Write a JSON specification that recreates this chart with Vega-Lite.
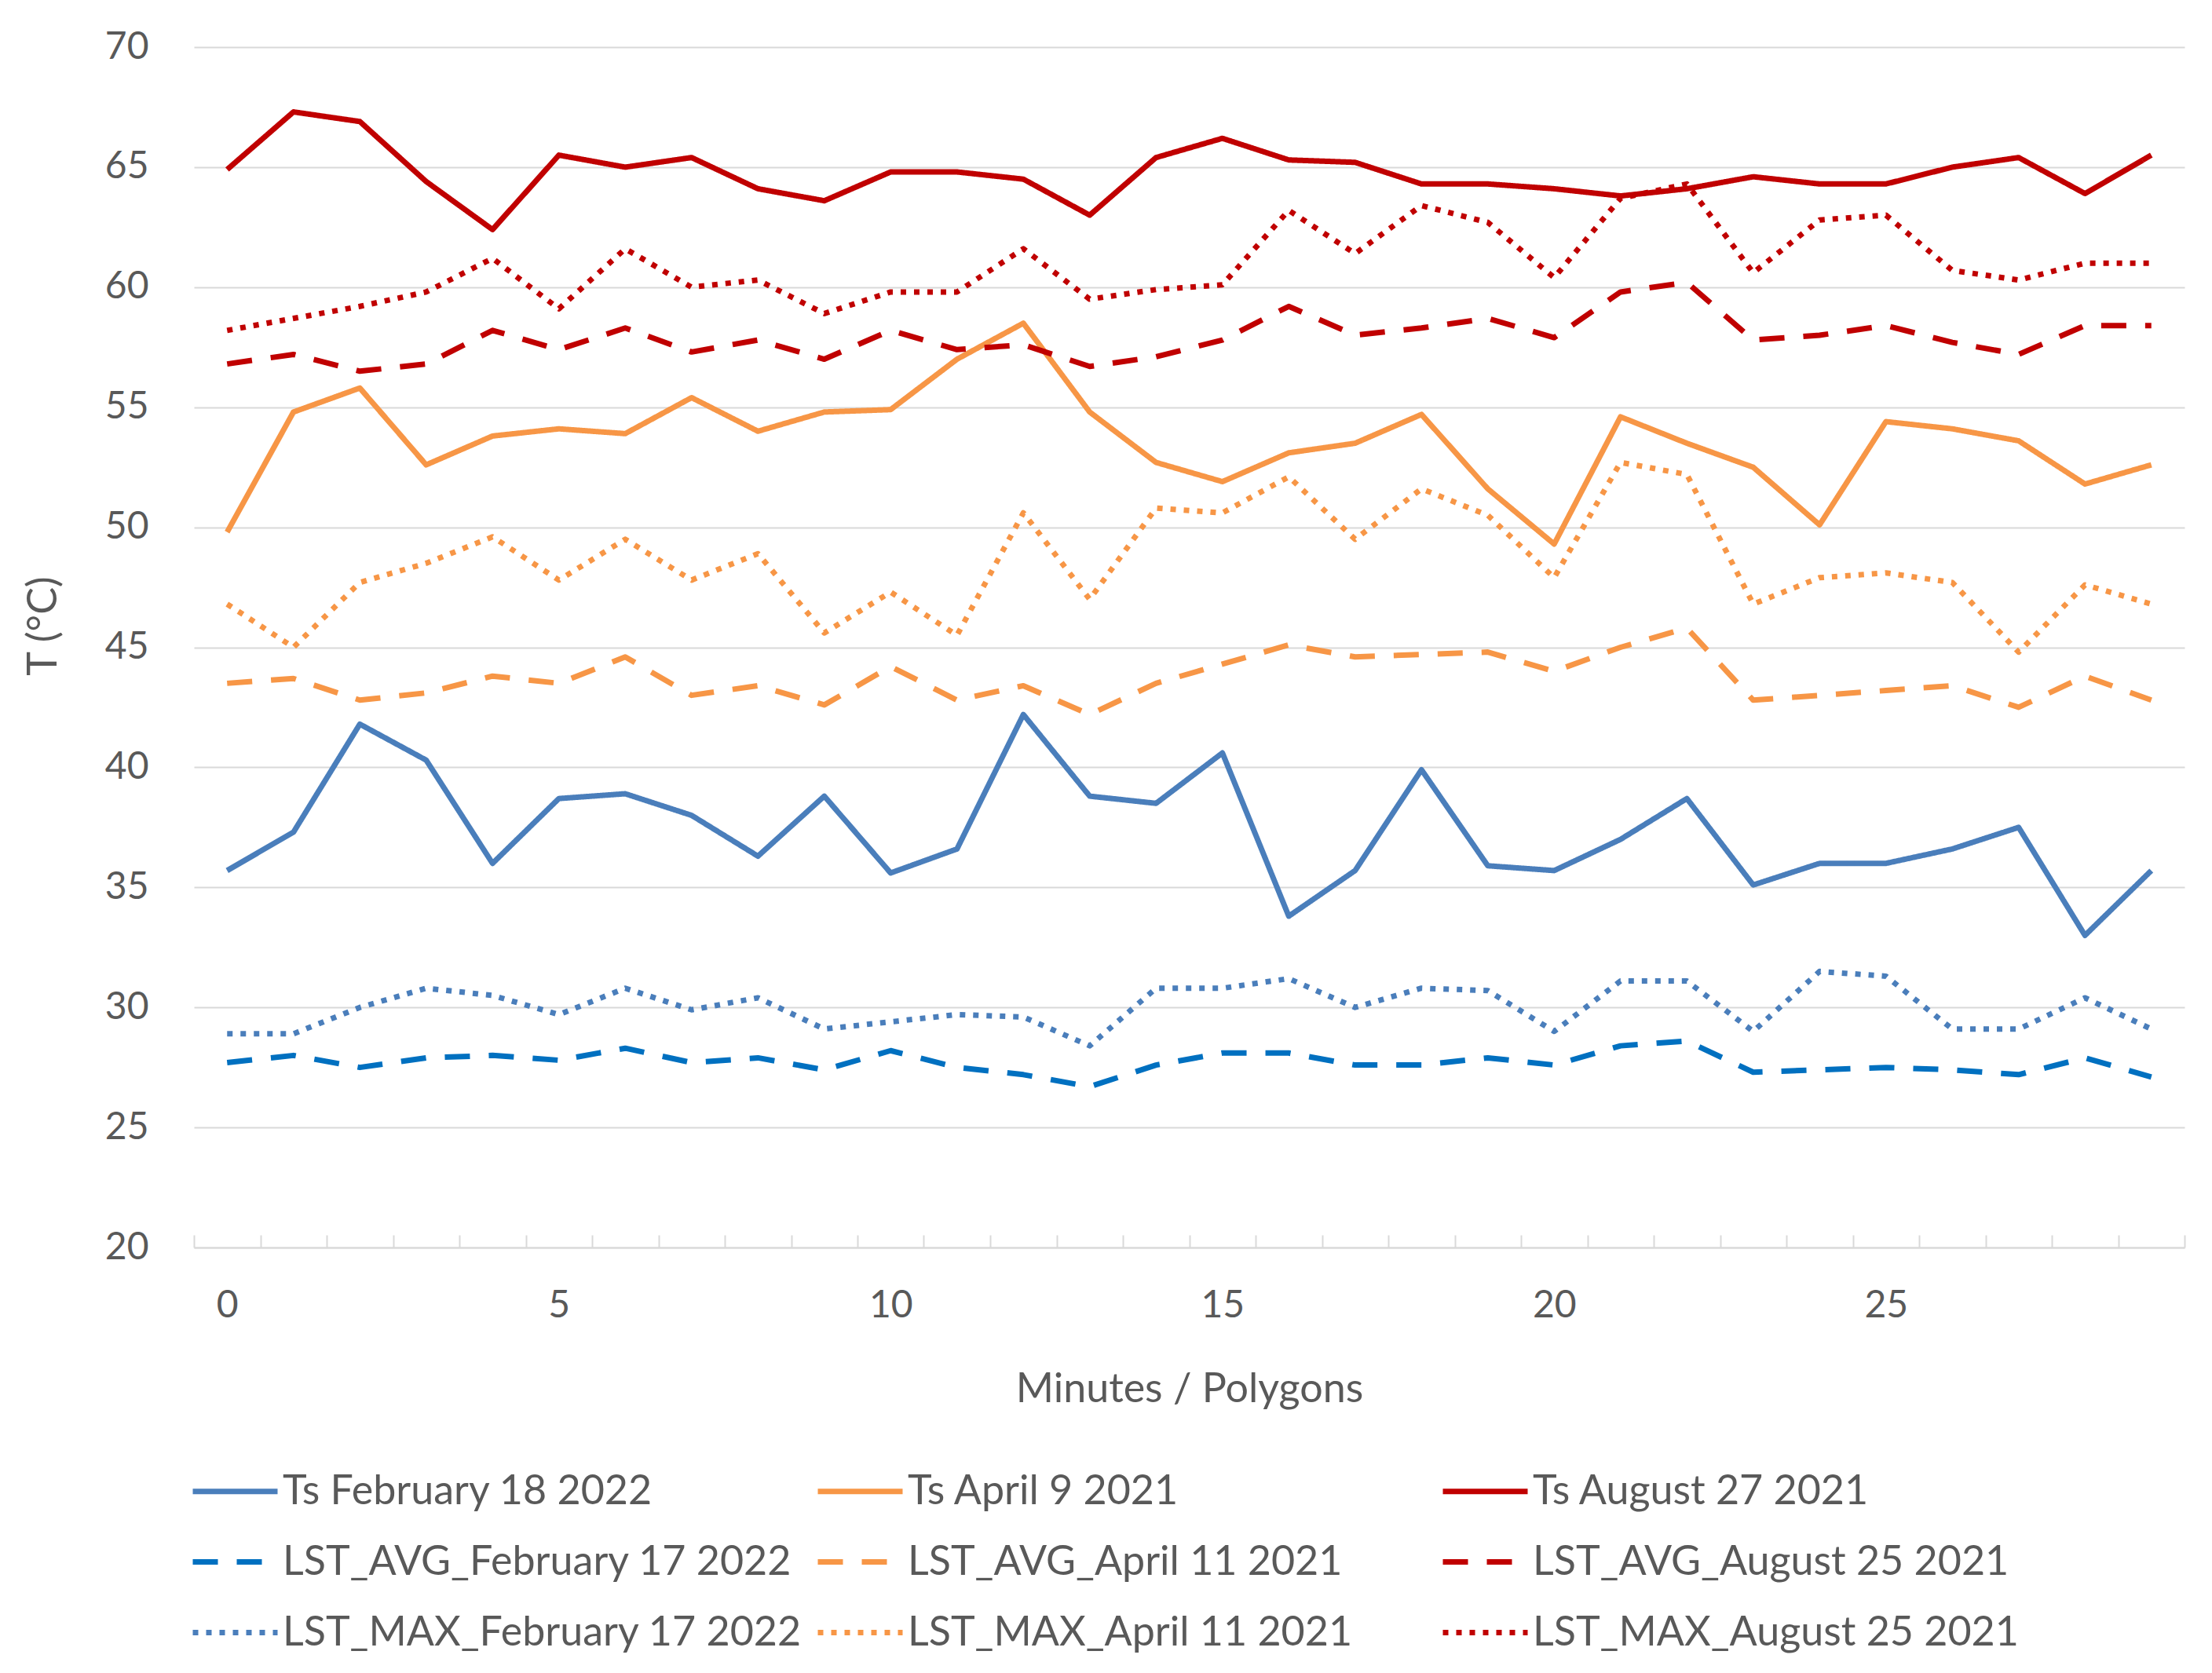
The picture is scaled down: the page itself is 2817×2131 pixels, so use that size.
{
  "$schema": "https://vega.github.io/schema/vega-lite/v6.json",
  "autosize": {"type": "none"},
  "padding": {"left": 247, "top": 60, "right": 35, "bottom": 542},
  "width": 2535,
  "height": 1529,
  "background": "white",
  "config": {
    "view": {"stroke": null},
    "font": "Lato",
    "axis": {"labelColor": "#595959", "titleColor": "#595959", "labelFont": "Lato", "titleFont": "Lato", "titleFontWeight": "normal"},
    "legend": {"labelFont": "Lato", "labelColor": "#595959"}
  },
  "data": {
    "values": [
      {"m": 0, "Ts February 18 2022": 35.7, "LST_AVG_February 17 2022": 27.7, "LST_MAX_February 17 2022": 28.9, "Ts April 9 2021": 49.8, "LST_AVG_April 11 2021": 43.5, "LST_MAX_April 11 2021": 46.8, "Ts August 27 2021": 64.9, "LST_AVG_August 25 2021": 56.8, "LST_MAX_August 25 2021": 58.2},
      {"m": 1, "Ts February 18 2022": 37.3, "LST_AVG_February 17 2022": 28.0, "LST_MAX_February 17 2022": 28.9, "Ts April 9 2021": 54.8, "LST_AVG_April 11 2021": 43.7, "LST_MAX_April 11 2021": 45.0, "Ts August 27 2021": 67.3, "LST_AVG_August 25 2021": 57.2, "LST_MAX_August 25 2021": 58.7},
      {"m": 2, "Ts February 18 2022": 41.8, "LST_AVG_February 17 2022": 27.5, "LST_MAX_February 17 2022": 30.0, "Ts April 9 2021": 55.8, "LST_AVG_April 11 2021": 42.8, "LST_MAX_April 11 2021": 47.7, "Ts August 27 2021": 66.9, "LST_AVG_August 25 2021": 56.5, "LST_MAX_August 25 2021": 59.2},
      {"m": 3, "Ts February 18 2022": 40.3, "LST_AVG_February 17 2022": 27.9, "LST_MAX_February 17 2022": 30.8, "Ts April 9 2021": 52.6, "LST_AVG_April 11 2021": 43.1, "LST_MAX_April 11 2021": 48.5, "Ts August 27 2021": 64.4, "LST_AVG_August 25 2021": 56.8, "LST_MAX_August 25 2021": 59.8},
      {"m": 4, "Ts February 18 2022": 36.0, "LST_AVG_February 17 2022": 28.0, "LST_MAX_February 17 2022": 30.5, "Ts April 9 2021": 53.8, "LST_AVG_April 11 2021": 43.8, "LST_MAX_April 11 2021": 49.6, "Ts August 27 2021": 62.4, "LST_AVG_August 25 2021": 58.2, "LST_MAX_August 25 2021": 61.2},
      {"m": 5, "Ts February 18 2022": 38.7, "LST_AVG_February 17 2022": 27.8, "LST_MAX_February 17 2022": 29.7, "Ts April 9 2021": 54.1, "LST_AVG_April 11 2021": 43.5, "LST_MAX_April 11 2021": 47.8, "Ts August 27 2021": 65.5, "LST_AVG_August 25 2021": 57.4, "LST_MAX_August 25 2021": 59.1},
      {"m": 6, "Ts February 18 2022": 38.9, "LST_AVG_February 17 2022": 28.3, "LST_MAX_February 17 2022": 30.8, "Ts April 9 2021": 53.9, "LST_AVG_April 11 2021": 44.6, "LST_MAX_April 11 2021": 49.5, "Ts August 27 2021": 65.0, "LST_AVG_August 25 2021": 58.3, "LST_MAX_August 25 2021": 61.6},
      {"m": 7, "Ts February 18 2022": 38.0, "LST_AVG_February 17 2022": 27.7, "LST_MAX_February 17 2022": 29.9, "Ts April 9 2021": 55.4, "LST_AVG_April 11 2021": 43.0, "LST_MAX_April 11 2021": 47.8, "Ts August 27 2021": 65.4, "LST_AVG_August 25 2021": 57.3, "LST_MAX_August 25 2021": 60.0},
      {"m": 8, "Ts February 18 2022": 36.3, "LST_AVG_February 17 2022": 27.9, "LST_MAX_February 17 2022": 30.4, "Ts April 9 2021": 54.0, "LST_AVG_April 11 2021": 43.4, "LST_MAX_April 11 2021": 48.9, "Ts August 27 2021": 64.1, "LST_AVG_August 25 2021": 57.8, "LST_MAX_August 25 2021": 60.3},
      {"m": 9, "Ts February 18 2022": 38.8, "LST_AVG_February 17 2022": 27.4, "LST_MAX_February 17 2022": 29.1, "Ts April 9 2021": 54.8, "LST_AVG_April 11 2021": 42.6, "LST_MAX_April 11 2021": 45.6, "Ts August 27 2021": 63.6, "LST_AVG_August 25 2021": 57.0, "LST_MAX_August 25 2021": 58.9},
      {"m": 10, "Ts February 18 2022": 35.6, "LST_AVG_February 17 2022": 28.2, "LST_MAX_February 17 2022": 29.4, "Ts April 9 2021": 54.9, "LST_AVG_April 11 2021": 44.2, "LST_MAX_April 11 2021": 47.3, "Ts August 27 2021": 64.8, "LST_AVG_August 25 2021": 58.2, "LST_MAX_August 25 2021": 59.8},
      {"m": 11, "Ts February 18 2022": 36.6, "LST_AVG_February 17 2022": 27.5, "LST_MAX_February 17 2022": 29.7, "Ts April 9 2021": 57.0, "LST_AVG_April 11 2021": 42.8, "LST_MAX_April 11 2021": 45.5, "Ts August 27 2021": 64.8, "LST_AVG_August 25 2021": 57.4, "LST_MAX_August 25 2021": 59.8},
      {"m": 12, "Ts February 18 2022": 42.2, "LST_AVG_February 17 2022": 27.2, "LST_MAX_February 17 2022": 29.6, "Ts April 9 2021": 58.5, "LST_AVG_April 11 2021": 43.4, "LST_MAX_April 11 2021": 50.6, "Ts August 27 2021": 64.5, "LST_AVG_August 25 2021": 57.6, "LST_MAX_August 25 2021": 61.6},
      {"m": 13, "Ts February 18 2022": 38.8, "LST_AVG_February 17 2022": 26.7, "LST_MAX_February 17 2022": 28.4, "Ts April 9 2021": 54.8, "LST_AVG_April 11 2021": 42.2, "LST_MAX_April 11 2021": 47.0, "Ts August 27 2021": 63.0, "LST_AVG_August 25 2021": 56.7, "LST_MAX_August 25 2021": 59.5},
      {"m": 14, "Ts February 18 2022": 38.5, "LST_AVG_February 17 2022": 27.6, "LST_MAX_February 17 2022": 30.8, "Ts April 9 2021": 52.7, "LST_AVG_April 11 2021": 43.5, "LST_MAX_April 11 2021": 50.8, "Ts August 27 2021": 65.4, "LST_AVG_August 25 2021": 57.1, "LST_MAX_August 25 2021": 59.9},
      {"m": 15, "Ts February 18 2022": 40.6, "LST_AVG_February 17 2022": 28.1, "LST_MAX_February 17 2022": 30.8, "Ts April 9 2021": 51.9, "LST_AVG_April 11 2021": 44.3, "LST_MAX_April 11 2021": 50.6, "Ts August 27 2021": 66.2, "LST_AVG_August 25 2021": 57.8, "LST_MAX_August 25 2021": 60.1},
      {"m": 16, "Ts February 18 2022": 33.8, "LST_AVG_February 17 2022": 28.1, "LST_MAX_February 17 2022": 31.2, "Ts April 9 2021": 53.1, "LST_AVG_April 11 2021": 45.1, "LST_MAX_April 11 2021": 52.1, "Ts August 27 2021": 65.3, "LST_AVG_August 25 2021": 59.2, "LST_MAX_August 25 2021": 63.2},
      {"m": 17, "Ts February 18 2022": 35.7, "LST_AVG_February 17 2022": 27.6, "LST_MAX_February 17 2022": 30.0, "Ts April 9 2021": 53.5, "LST_AVG_April 11 2021": 44.6, "LST_MAX_April 11 2021": 49.5, "Ts August 27 2021": 65.2, "LST_AVG_August 25 2021": 58.0, "LST_MAX_August 25 2021": 61.4},
      {"m": 18, "Ts February 18 2022": 39.9, "LST_AVG_February 17 2022": 27.6, "LST_MAX_February 17 2022": 30.8, "Ts April 9 2021": 54.7, "LST_AVG_April 11 2021": 44.7, "LST_MAX_April 11 2021": 51.6, "Ts August 27 2021": 64.3, "LST_AVG_August 25 2021": 58.3, "LST_MAX_August 25 2021": 63.4},
      {"m": 19, "Ts February 18 2022": 35.9, "LST_AVG_February 17 2022": 27.9, "LST_MAX_February 17 2022": 30.7, "Ts April 9 2021": 51.6, "LST_AVG_April 11 2021": 44.8, "LST_MAX_April 11 2021": 50.5, "Ts August 27 2021": 64.3, "LST_AVG_August 25 2021": 58.7, "LST_MAX_August 25 2021": 62.7},
      {"m": 20, "Ts February 18 2022": 35.7, "LST_AVG_February 17 2022": 27.6, "LST_MAX_February 17 2022": 29.0, "Ts April 9 2021": 49.3, "LST_AVG_April 11 2021": 44.0, "LST_MAX_April 11 2021": 47.9, "Ts August 27 2021": 64.1, "LST_AVG_August 25 2021": 57.9, "LST_MAX_August 25 2021": 60.4},
      {"m": 21, "Ts February 18 2022": 37.0, "LST_AVG_February 17 2022": 28.4, "LST_MAX_February 17 2022": 31.1, "Ts April 9 2021": 54.6, "LST_AVG_April 11 2021": 45.0, "LST_MAX_April 11 2021": 52.7, "Ts August 27 2021": 63.8, "LST_AVG_August 25 2021": 59.8, "LST_MAX_August 25 2021": 63.7},
      {"m": 22, "Ts February 18 2022": 38.7, "LST_AVG_February 17 2022": 28.6, "LST_MAX_February 17 2022": 31.1, "Ts April 9 2021": 53.5, "LST_AVG_April 11 2021": 45.8, "LST_MAX_April 11 2021": 52.2, "Ts August 27 2021": 64.1, "LST_AVG_August 25 2021": 60.2, "LST_MAX_August 25 2021": 64.3},
      {"m": 23, "Ts February 18 2022": 35.1, "LST_AVG_February 17 2022": 27.3, "LST_MAX_February 17 2022": 29.0, "Ts April 9 2021": 52.5, "LST_AVG_April 11 2021": 42.8, "LST_MAX_April 11 2021": 46.8, "Ts August 27 2021": 64.6, "LST_AVG_August 25 2021": 57.8, "LST_MAX_August 25 2021": 60.6},
      {"m": 24, "Ts February 18 2022": 36.0, "LST_AVG_February 17 2022": 27.4, "LST_MAX_February 17 2022": 31.5, "Ts April 9 2021": 50.1, "LST_AVG_April 11 2021": 43.0, "LST_MAX_April 11 2021": 47.9, "Ts August 27 2021": 64.3, "LST_AVG_August 25 2021": 58.0, "LST_MAX_August 25 2021": 62.8},
      {"m": 25, "Ts February 18 2022": 36.0, "LST_AVG_February 17 2022": 27.5, "LST_MAX_February 17 2022": 31.3, "Ts April 9 2021": 54.4, "LST_AVG_April 11 2021": 43.2, "LST_MAX_April 11 2021": 48.1, "Ts August 27 2021": 64.3, "LST_AVG_August 25 2021": 58.4, "LST_MAX_August 25 2021": 63.0},
      {"m": 26, "Ts February 18 2022": 36.6, "LST_AVG_February 17 2022": 27.4, "LST_MAX_February 17 2022": 29.1, "Ts April 9 2021": 54.1, "LST_AVG_April 11 2021": 43.4, "LST_MAX_April 11 2021": 47.7, "Ts August 27 2021": 65.0, "LST_AVG_August 25 2021": 57.7, "LST_MAX_August 25 2021": 60.7},
      {"m": 27, "Ts February 18 2022": 37.5, "LST_AVG_February 17 2022": 27.2, "LST_MAX_February 17 2022": 29.1, "Ts April 9 2021": 53.6, "LST_AVG_April 11 2021": 42.5, "LST_MAX_April 11 2021": 44.8, "Ts August 27 2021": 65.4, "LST_AVG_August 25 2021": 57.2, "LST_MAX_August 25 2021": 60.3},
      {"m": 28, "Ts February 18 2022": 33.0, "LST_AVG_February 17 2022": 27.9, "LST_MAX_February 17 2022": 30.4, "Ts April 9 2021": 51.8, "LST_AVG_April 11 2021": 43.8, "LST_MAX_April 11 2021": 47.6, "Ts August 27 2021": 63.9, "LST_AVG_August 25 2021": 58.4, "LST_MAX_August 25 2021": 61.0},
      {"m": 29, "Ts February 18 2022": 35.7, "LST_AVG_February 17 2022": 27.1, "LST_MAX_February 17 2022": 29.1, "Ts April 9 2021": 52.6, "LST_AVG_April 11 2021": 42.8, "LST_MAX_April 11 2021": 46.8, "Ts August 27 2021": 65.5, "LST_AVG_August 25 2021": 58.4, "LST_MAX_August 25 2021": 61.0}
    ]
  },
  "transform": [
    {
      "fold": [
        "Ts February 18 2022", "Ts April 9 2021", "Ts August 27 2021",
        "LST_AVG_February 17 2022", "LST_AVG_April 11 2021", "LST_AVG_August 25 2021",
        "LST_MAX_February 17 2022", "LST_MAX_April 11 2021", "LST_MAX_August 25 2021"
      ],
      "as": ["series", "T"]
    }
  ],
  "mark": {"type": "line", "strokeWidth": 7, "strokeJoin": "round"},
  "encoding": {
    "x": {
      "field": "m",
      "type": "quantitative",
      "scale": {"domain": [-0.5, 29.5], "nice": false, "zero": false},
      "axis": {
        "title": "Minutes / Polygons",
        "titleFontSize": 52,
        "titleY": 180,
        "titleBaseline": "middle",
        "values": [-0.5, 0, 0.5, 1.5, 2.5, 3.5, 4.5, 5, 5.5, 6.5, 7.5, 8.5, 9.5, 10, 10.5, 11.5, 12.5, 13.5, 14.5, 15, 15.5, 16.5, 17.5, 18.5, 19.5, 20, 20.5, 21.5, 22.5, 23.5, 24.5, 25, 25.5, 26.5, 27.5, 28.5, 29.5],
        "labelExpr": "datum.value % 1 == 0 ? datum.label : ''",
        "labelOverlap": false,
        "labelFlush": false,
        "labelFontSize": 48,
        "labelBaseline": "middle",
        "labelPadding": 90,
        "grid": false,
        "domainColor": "#D9D9D9",
        "domainWidth": 2,
        "tickColor": "#D9D9D9",
        "tickWidth": 2,
        "tickSize": -16,
        "tickOpacity": {"expr": "datum.value % 1 == 0 ? 0 : 1"}
      }
    },
    "y": {
      "field": "T",
      "type": "quantitative",
      "scale": {"domain": [20, 70], "nice": false, "zero": false},
      "axis": {
        "title": "T (°C)",
        "titleFontSize": 52,
        "titleX": -192,
        "titleY": 737,
        "titleBaseline": "middle",
        "values": [20, 25, 30, 35, 40, 45, 50, 55, 60, 65, 70],
        "labelFontSize": 48,
        "labelPadding": 58,
        "domain": false,
        "ticks": false,
        "gridColor": "#D9D9D9",
        "gridWidth": 2
      }
    },
    "color": {
      "field": "series",
      "type": "nominal",
      "scale": {
        "domain": [
          "Ts February 18 2022", "Ts April 9 2021", "Ts August 27 2021",
          "LST_AVG_February 17 2022", "LST_AVG_April 11 2021", "LST_AVG_August 25 2021",
          "LST_MAX_February 17 2022", "LST_MAX_April 11 2021", "LST_MAX_August 25 2021"
        ],
        "range": ["#4A7EBB", "#F79646", "#C00000", "#0070C0", "#F79646", "#C00000", "#4A7EBB", "#F79646", "#C00000"]
      },
      "legend": {
        "title": null,
        "orient": "none",
        "legendX": -5,
        "legendY": 1782,
        "direction": "horizontal",
        "columns": 3,
        "gridAlign": "all",
        "columnPadding": 5,
        "rowPadding": 6,
        "padding": 0,
        "labelFontSize": 52,
        "labelLimit": 1200,
        "labelOffset": 3,
        "symbolType": "stroke",
        "symbolSize": 11664,
        "symbolStrokeWidth": 7
      }
    },
    "strokeDash": {
      "field": "series",
      "type": "nominal",
      "scale": {
        "domain": [
          "Ts February 18 2022", "Ts April 9 2021", "Ts August 27 2021",
          "LST_AVG_February 17 2022", "LST_AVG_April 11 2021", "LST_AVG_August 25 2021",
          "LST_MAX_February 17 2022", "LST_MAX_April 11 2021", "LST_MAX_August 25 2021"
        ],
        "range": [[1, 0], [1, 0], [1, 0], [32, 24], [32, 24], [32, 24], [7, 10], [7, 10], [7, 10]]
      }
    }
  }
}
